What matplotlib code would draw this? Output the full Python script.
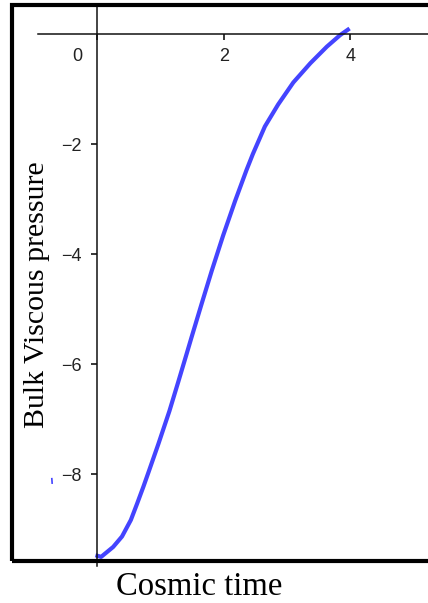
import matplotlib
matplotlib.use("Agg")
import matplotlib.pyplot as plt
from matplotlib.patches import Rectangle
import matplotlib.transforms as mtransforms

# ---- data ----
cosmic_time = [-0.03, 0.06, 0.25, 0.39, 0.53, 0.63, 0.73, 0.81, 0.965, 1.14,
               1.28, 1.41, 1.49, 1.65, 1.81, 1.99, 2.18, 2.36, 2.46, 2.65,
               2.86, 3.10, 3.37, 3.63, 3.84, 3.99]
bulk_pressure = [-9.47, -9.50, -9.32, -9.13, -8.83, -8.53, -8.22, -7.96, -7.45,
                 -6.85, -6.32, -5.82, -5.51, -4.90, -4.30, -3.66, -3.03, -2.47,
                 -2.18, -1.68, -1.28, -0.88, -0.53, -0.23, -0.02, 0.10]
x_ticks = [0, 2, 4]
x_tick_labels = ["0", "2", "4"]
y_ticks = [-2, -4, -6, -8]
y_tick_labels = ["\u22122", "\u22124", "\u22126", "\u22128"]
stray_x = [-0.72, -0.715]
stray_y = [-8.08, -8.16]

W, H = 428, 603
fig = plt.figure(figsize=(W / 100, H / 100), dpi=100)

# axes geometry (pixels)
left_px, right_px, top_px, bottom_px = 38.3, 440, 5, 566
ax = fig.add_axes([left_px / W, (H - bottom_px) / H,
                   (right_px - left_px) / W, (bottom_px - top_px) / H])
ax.set_xlim(-0.934, 5.42)
ax.set_ylim(-9.666, 0.527)
ax.patch.set_alpha(0)

for s in ("top", "right"):
    ax.spines[s].set_visible(False)
ax.spines["left"].set_position(("data", 0))
ax.spines["bottom"].set_position(("data", 0))
for s in ("left", "bottom"):
    ax.spines[s].set_linewidth(1.1)
    ax.spines[s].set_color("#111111")

ax.plot(cosmic_time, bulk_pressure, color="#4444FF", lw=3.0,
        solid_capstyle="butt", solid_joinstyle="round", clip_on=False)
ax.plot(stray_x, stray_y, color="#4444FF", lw=1.2, clip_on=False)

tick_font = dict(family="Liberation Sans", size=13)
ax.set_xticks(x_ticks)
ax.set_xticklabels(x_tick_labels, color="#222222", **tick_font)
ax.set_yticks(y_ticks)
ax.set_yticklabels(y_tick_labels, color="#222222", **tick_font)
ax.tick_params(axis="x", direction="out", length=4, width=1.1, pad=6)
ax.tick_params(axis="y", direction="out", length=4, width=1.1, pad=7)

# Maple-style: the "0" label sits left of the vertical axis
lab0 = ax.get_xticklabels()[0]
lab0.set_transform(lab0.get_transform() +
                   mtransforms.ScaledTranslation(-20 / 100, 0, fig.dpi_scale_trans))

# outer frame
fig.add_artist(Rectangle((12 / W, (H - 561) / H), (480 - 12) / W, (561 - 5) / H,
                         transform=fig.transFigure, fill=False,
                         edgecolor="black", lw=3))

fig.text(199.5 / W, (H - 595) / H, "Cosmic time", ha="center", va="baseline",
         family="Liberation Serif", size=23.5, color="black")
fig.text(44 / W, (H - 295) / H, "Bulk Viscous pressure", rotation=90,
         rotation_mode="anchor", ha="center", va="baseline",
         family="Liberation Serif", size=21.5, color="black")

fig.savefig("out.png", dpi=100)
